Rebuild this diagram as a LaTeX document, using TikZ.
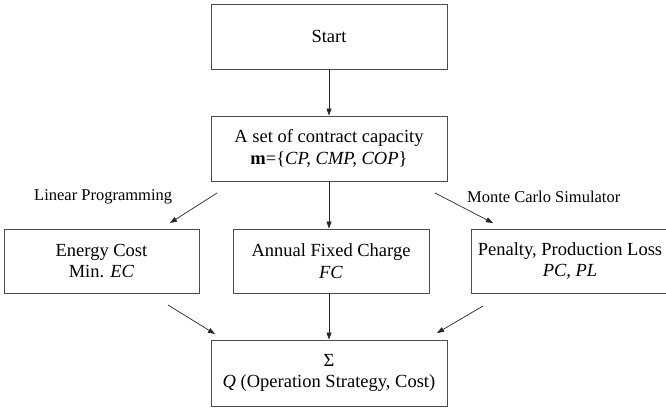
\documentclass[tikz,border=0pt]{standalone}
\usepackage{fontspec}
\setmainfont{Liberation Serif}
\usetikzlibrary{arrows.meta}
\tikzset{
  box/.style={draw=black!70, line width=0.9pt, rectangle, align=center, inner sep=0pt,
    font=\fontsize{18.5}{21.5}\selectfont},
  lbl/.style={inner sep=0pt, anchor=west, font=\fontsize{16.5}{19}\selectfont},
  arr/.style={draw=black!85, line width=0.7pt, -{Triangle[length=7pt,width=5pt]}}
}
\begin{document}
\begin{tikzpicture}[x=1pt,y=-1pt]
\useasboundingbox (0,0) rectangle (666,409);
\clip (0,0) rectangle (666,409);
\node[box, minimum width=236pt, minimum height=65pt] (start) at (329,36.5) {Start};
\node[box, minimum width=236pt, minimum height=65pt] (set) at (329,148.5)
  {A set of contract capacity\\ \textbf{m}=\{\textit{CP, CMP, COP}\}};
\node[box, minimum width=195pt, minimum height=64pt] (energy) at (101.5,261)
  {Energy Cost\\ Min. \textit{EC}};
\node[box, minimum width=196pt, minimum height=64pt] (annual) at (331,261)
  {Annual Fixed Charge\\ \textit{FC}};
\node[box, minimum width=198pt, minimum height=64pt] (penalty) at (570,261)
  {Penalty, Production Loss\\ \textit{PC, PL}};
\node[box, minimum width=236pt, minimum height=66pt] (sum) at (329,373)
  {Σ\\ \textit{Q} (Operation Strategy, Cost)};
\node[lbl] (lp) at (34,197) {Linear Programming};
\node[lbl] (mc) at (467,197) {Monte Carlo Simulator};
\coordinate (a1) at (217,193);
\coordinate (a2) at (170,223);
\coordinate (b1) at (435,193);
\coordinate (b2) at (493,223);
\coordinate (c1) at (168,305);
\coordinate (c2) at (215,334);
\coordinate (d1) at (483,306);
\coordinate (d2) at (437,333);
\draw[arr] (start.south) -- (set.north);
\draw[arr] (set.south) -- (set.south |- annual.north);
\draw[arr] (annual.south -| sum.north) -- (sum.north);
\draw[arr] (a1) -- (a2);
\draw[arr] (b1) -- (b2);
\draw[arr] (c1) -- (c2);
\draw[arr] (d1) -- (d2);
\end{tikzpicture}
\end{document}
